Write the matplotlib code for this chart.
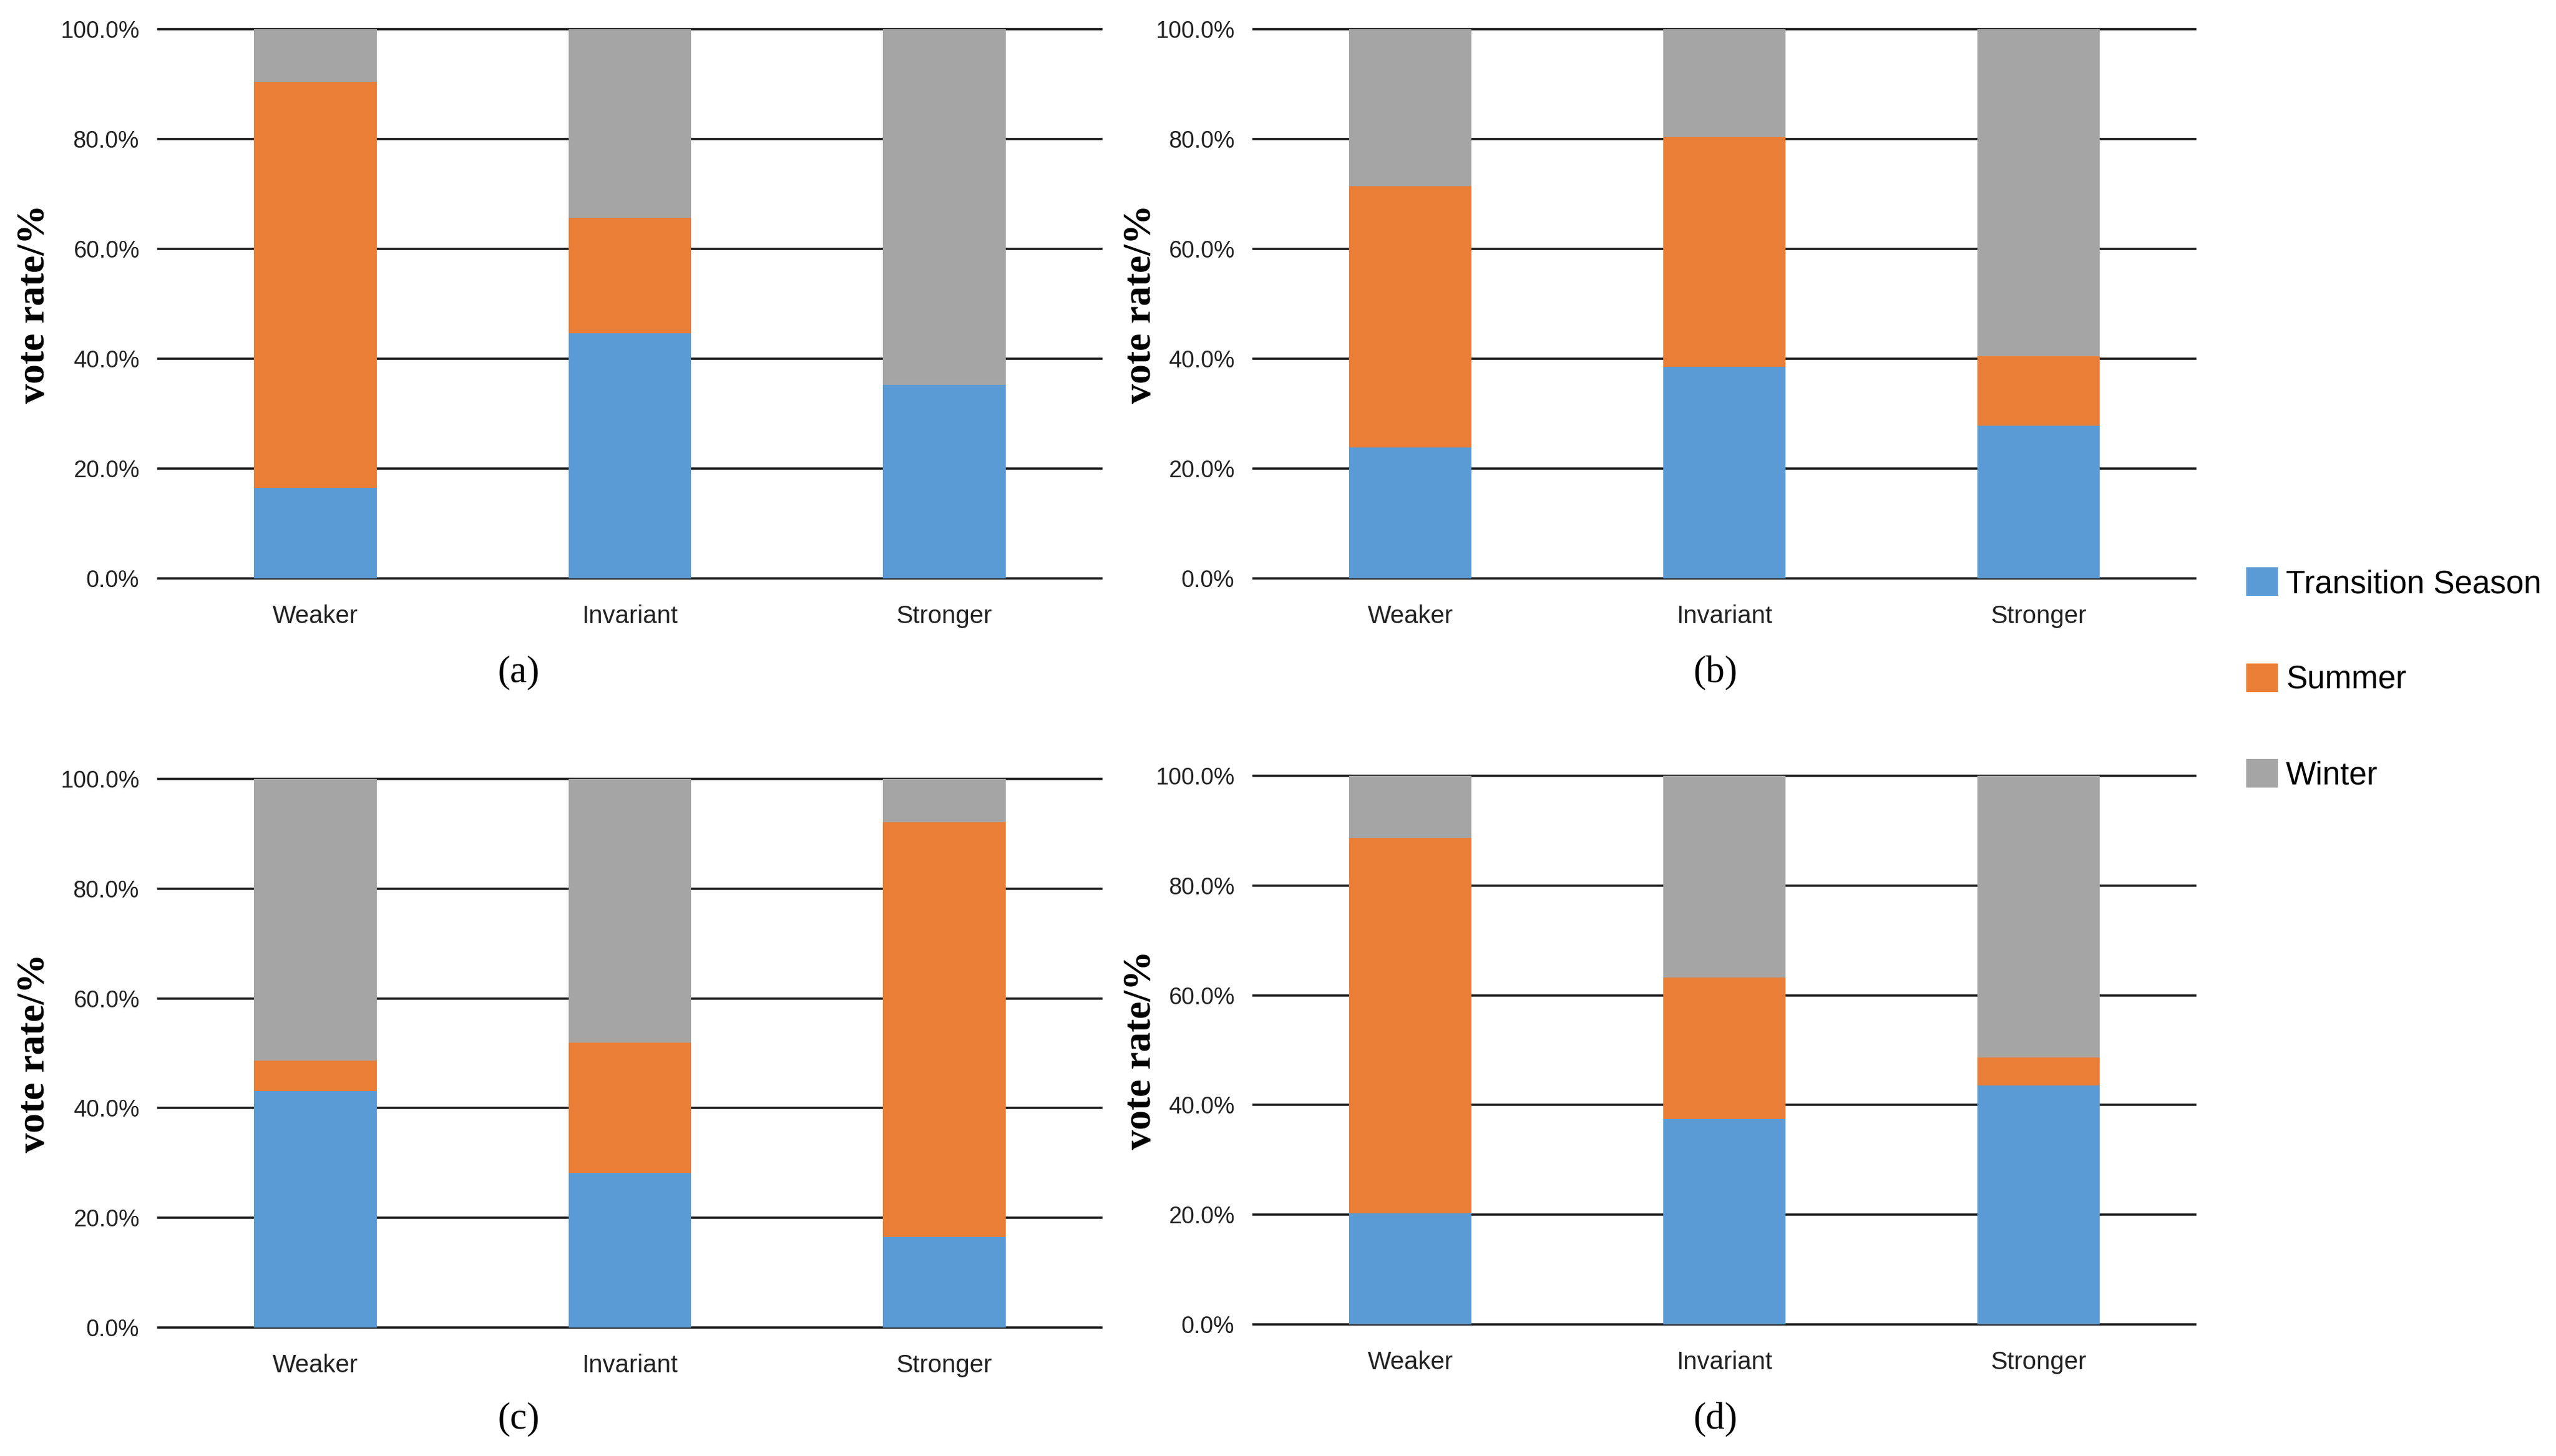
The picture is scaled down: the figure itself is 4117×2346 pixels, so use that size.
import matplotlib
matplotlib.use("Agg")
import matplotlib.pyplot as plt
from matplotlib.patches import Patch
from matplotlib.ticker import FuncFormatter

categories = ["Weaker", "Invariant", "Stronger"]
series_names = ["Transition Season", "Summer", "Winter"]
colors = ["#5B9BD5", "#EA7E36", "#A5A5A5"]
y_ticks = [0, 20, 40, 60, 80, 100]

# vote rate (%) per panel, stacked bottom -> top
transition_a = [16.5, 44.6, 35.3]
summer_a = [73.9, 21.1, 0.0]
winter_a = [9.6, 34.3, 64.7]

transition_b = [23.9, 38.5, 27.8]
summer_b = [47.5, 41.8, 12.6]
winter_b = [28.6, 19.7, 59.6]

transition_c = [43.1, 28.2, 16.5]
summer_c = [5.5, 23.7, 75.6]
winter_c = [51.4, 48.1, 7.9]

transition_d = [20.2, 37.4, 43.6]
summer_d = [68.5, 25.8, 5.0]
winter_d = [11.3, 36.8, 51.4]

panels = [
    ("(a)", [transition_a, summer_a, winter_a]),
    ("(b)", [transition_b, summer_b, winter_b]),
    ("(c)", [transition_c, summer_c, winter_c]),
    ("(d)", [transition_d, summer_d, winter_d]),
]

# axes rectangles in figure fractions [left, bottom, width, height]
rects = [
    [0.0619, 0.6027, 0.3690, 0.3773],
    [0.4904, 0.6027, 0.3685, 0.3773],
    [0.0619, 0.0882, 0.3690, 0.3768],
    [0.4904, 0.0904, 0.3685, 0.3768],
]
letter_pos = [(0.2028, 0.538), (0.671, 0.538), (0.2028, 0.025), (0.671, 0.025)]
ylabel_x = [-0.131, -0.119, -0.131, -0.119]

fig = plt.figure(figsize=(41.17, 23.46), dpi=100)
fig.patch.set_facecolor("white")

x = list(range(len(categories)))
for i, (letter, stacks) in enumerate(panels):
    ax = fig.add_axes(rects[i])
    bottom = [0.0] * len(categories)
    for vals, col, name in zip(stacks, colors, series_names):
        ax.bar(x, vals, width=0.39, bottom=bottom, color=col,
               edgecolor="none", zorder=2, label=name)
        bottom = [b + v for b, v in zip(bottom, vals)]

    for t in y_ticks:
        ax.axhline(t, color="#1a1a1a", linewidth=2.6, zorder=1, clip_on=False)

    ax.set_xlim(-0.5, 2.5)
    ax.set_ylim(0, 100)
    ax.set_yticks(y_ticks)
    ax.yaxis.set_major_formatter(FuncFormatter(lambda v, p: f"{v:.1f}%"))
    ax.set_xticks(x)
    ax.set_xticklabels(categories)
    for s in ax.spines.values():
        s.set_visible(False)
    ax.tick_params(axis="both", length=0, colors="#222222")
    ax.tick_params(axis="y", pad=22, labelsize=27)
    ax.tick_params(axis="x", pad=30, labelsize=29)
    for lab in ax.get_xticklabels() + ax.get_yticklabels():
        lab.set_family("Liberation Sans")

    ax.set_ylabel("vote rate/%", family="Liberation Serif", fontweight="bold",
                  fontsize=46, va="center")
    ax.yaxis.set_label_coords(ylabel_x[i], 0.5)

    fig.text(letter_pos[i][0], letter_pos[i][1], letter, family="Liberation Serif",
             fontsize=44, ha="center", va="center")

handles = [Patch(facecolor=c, edgecolor="none", label=n)
           for c, n in zip(colors, series_names)]
fig.legend(handles=handles, loc="center left", bbox_to_anchor=(0.8788, 0.5334),
           frameon=False, prop={"family": "Liberation Sans", "size": 37},
           handlelength=1.0, handleheight=1.0, handletextpad=0.25,
           labelspacing=2.0, borderpad=0, borderaxespad=0)

fig.savefig("out.png", dpi=100)
